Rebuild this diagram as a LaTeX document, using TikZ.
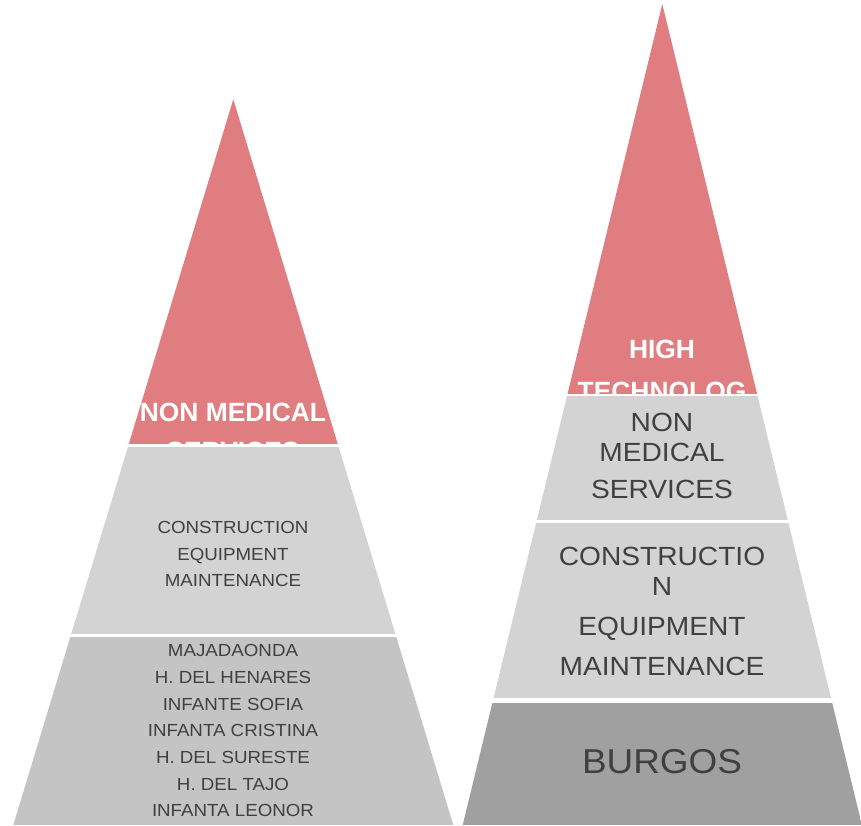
\documentclass[tikz,border=0pt]{standalone}
\usepackage{fontspec}
\setmainfont{Liberation Sans}
\newfontfamily\widefont[FakeStretch=1.07]{Liberation Sans}
\usepackage{tikz}
\definecolor{tierred}{HTML}{E07D80}
\definecolor{tierlight}{HTML}{D3D3D3}
\definecolor{tiermid}{HTML}{C4C4C4}
\definecolor{tierdark}{HTML}{A0A0A0}
\definecolor{tiertext}{HTML}{404040}
\begin{document}
\begin{tikzpicture}[x=1pt,y=-1pt,
  toptext/.style={anchor=base,inner sep=0pt,text=white,font=\fontsize{26.4}{30}\selectfont\bfseries},
  smalltext/.style={anchor=base,inner sep=0pt,text=tiertext,font=\widefont\fontsize{17.5}{20}\selectfont},
  bigtext/.style={anchor=base,inner sep=0pt,text=tiertext,font=\widefont\fontsize{26.3}{30}\selectfont}]
\useasboundingbox (0,0) rectangle (861,825);
% left pyramid
\begin{scope}
\clip (233.3,99.3) -- (13.3,825) -- (453.3,825) -- cycle;
\fill [tierred] (0,0) rectangle (861,443.5);
\fill [tierlight] (0,446.5) rectangle (861,634);
\fill [tiermid] (0,637.3) rectangle (861,825);
\clip (0,0) rectangle (861,443.5);
\path node (lr1) at (233,421.7) [toptext] {NON MEDICAL}
      node (lr2) at (233,460.4) [toptext] {SERVICES};
\end{scope}
\path node (lm1) at (233,533.3) [smalltext] {CONSTRUCTION}
      node (lm2) at (233,560) [smalltext] {EQUIPMENT}
      node (lm3) at (233,586.7) [smalltext] {MAINTENANCE};
\foreach \name [count=\i from 0] in {MAJADAONDA,H. DEL HENARES,INFANTE SOFIA,INFANTA CRISTINA,H. DEL SURESTE,H. DEL TAJO,INFANTA LEONOR}
  \path node (lb\i) at (233,656.7+26.67*\i) [smalltext] {\name};
% right pyramid
\begin{scope}
\clip (662.3,4) -- (462.7,825) -- (861.9,825) -- cycle;
\fill [tierred] (0,0) rectangle (861,393.5);
\fill [tierlight] (0,395.5) rectangle (861,520);
\fill [tierlight] (0,522.5) rectangle (861,698.3);
\fill [tierdark] (0,702.7) rectangle (861,825);
\clip (0,0) rectangle (861,393.5);
\path node (rr1) at (662,358) [toptext] {HIGH}
      node (rr2) at (662,400) [toptext] {TECHNOLOG};
\end{scope}
\path node (rn1) at (662,431.7) [bigtext] {NON}
      node (rn2) at (662,461) [bigtext] {MEDICAL}
      node (rn3) at (662,498.3) [bigtext] {SERVICES};
\path node (rc1) at (662,565.7) [bigtext] {CONSTRUCTIO}
      node (rc2) at (662,595) [bigtext] {N}
      node (rc3) at (662,635) [bigtext] {EQUIPMENT}
      node (rc4) at (662,675) [bigtext] {MAINTENANCE};
\path node (rb) at (662,773.3) [bigtext,font=\widefont\fontsize{34.5}{40}\selectfont] {BURGOS};
\end{tikzpicture}
\end{document}
